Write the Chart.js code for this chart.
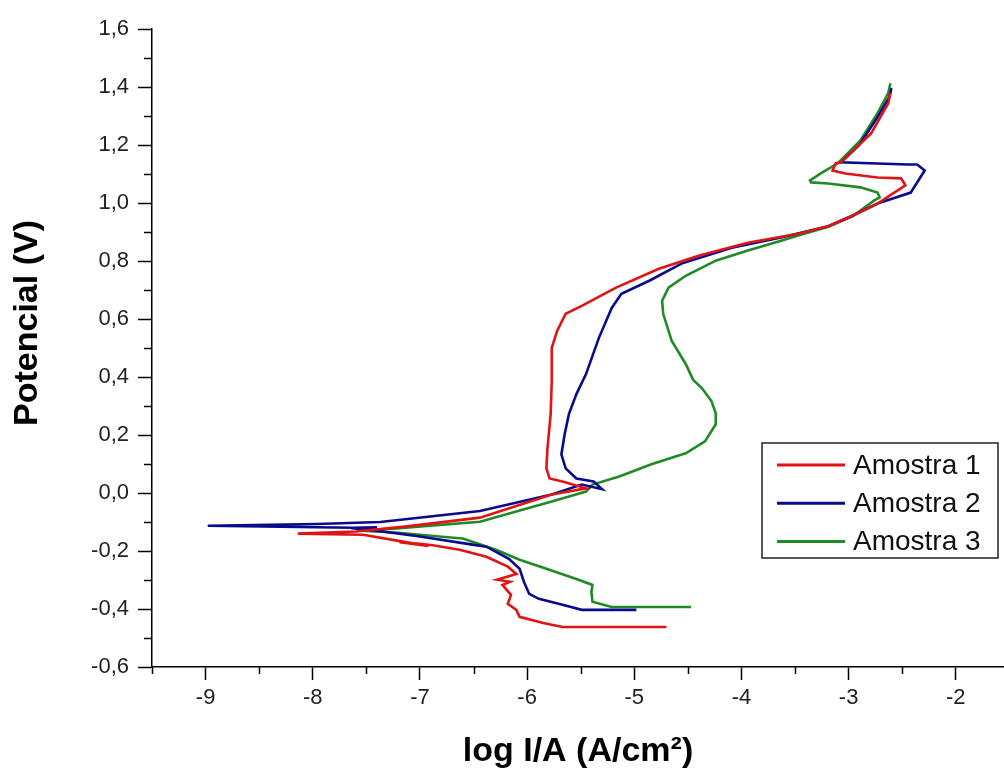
<!DOCTYPE html>
<html lang="pt-BR">
<head>
<meta charset="utf-8">
<title>Curvas de polarização</title>
<script src="https://cdn.jsdelivr.net/npm/chart.js@4.4.0/dist/chart.umd.min.js"></script>
<style>
  html, body { margin: 0; padding: 0; background: #fff; }
  #grafico { display: block; }
</style>
</head>
<body>
<canvas id="grafico" width="1004" height="772"></canvas>
<script>
// Curvas de polarização - log I x Potencial

// Amostra 1 (vermelho)
const amostra1LogI = [-4.70, -5.67, -5.85, -6.07, -6.10, -6.18, -6.15, -6.23, -6.16, -6.28, -6.10, -6.18, -6.38, -6.63,
    -6.88, -7.00, -7.19, -6.92, -7.20, -7.53, -8.14, -7.60, -7.12, -6.44, -5.77, -5.45, -5.67, -5.79, -5.82, -5.81,
    -5.78, -5.77, -5.77, -5.72, -5.64, -5.49, -5.17, -4.77, -4.40, -3.94, -3.47, -3.19, -2.96, -2.73, -2.47, -2.51,
    -2.73, -3.03, -3.15, -3.12, -3.07, -2.79, -2.63, -2.61];
const amostra1E = [-0.462, -0.462, -0.448, -0.427, -0.403, -0.382, -0.351, -0.317, -0.306, -0.299, -0.279, -0.254, -0.220, -0.196,
    -0.180, -0.175, -0.170, -0.183, -0.165, -0.144, -0.140, -0.133, -0.115, -0.085, -0.005, 0.016, 0.040, 0.050, 0.085, 0.154,
    0.272, 0.386, 0.500, 0.559, 0.618, 0.645, 0.708, 0.773, 0.818, 0.863, 0.894, 0.920, 0.957, 0.998, 1.061, 1.085,
    1.088, 1.102, 1.112, 1.137, 1.140, 1.240, 1.344, 1.380];

// Amostra 2 (azul)
const amostra2LogI = [-4.98, -5.49, -5.67, -5.89, -5.98, -6.03, -6.07, -6.17, -6.38, -6.51, -7.00, -7.35, -7.55, -7.40,
    -7.62, -8.98, -7.96, -7.37, -6.44, -5.77, -5.49, -5.30, -5.38, -5.54, -5.64, -5.68, -5.65, -5.61, -5.54, -5.45,
    -5.33, -5.21, -5.12, -4.86, -4.56, -4.09, -3.63, -3.19, -2.96, -2.73, -2.42, -2.29, -2.36, -2.45, -3.07, -2.90,
    -2.73, -2.62, -2.60];
const amostra2E = [-0.403, -0.403, -0.385, -0.365, -0.348, -0.306, -0.261, -0.227, -0.185, -0.178, -0.150, -0.133, -0.125, -0.118,
    -0.120, -0.113, -0.107, -0.100, -0.062, -0.005, 0.029, 0.013, 0.040, 0.050, 0.085, 0.133, 0.202, 0.272, 0.341, 0.410,
    0.535, 0.638, 0.687, 0.732, 0.791, 0.846, 0.881, 0.920, 0.957, 0.998, 1.036, 1.112, 1.133, 1.133, 1.140, 1.200,
    1.296, 1.365, 1.396];

// Amostra 3 (verde)
const amostra3LogI = [-4.47, -5.21, -5.39, -5.40, -5.39, -5.52, -5.82, -6.07, -6.29, -6.60, -6.82, -7.20, -7.54, -7.25,
    -6.44, -5.77, -5.45, -5.39, -5.14, -4.84, -4.52, -4.34, -4.24, -4.24, -4.28, -4.37, -4.45, -4.52, -4.65, -4.73,
    -4.74, -4.68, -4.52, -4.24, -3.94, -3.63, -3.47, -3.19, -2.96, -2.76, -2.71, -2.73, -2.89, -3.19, -3.35, -3.36,
    -3.26, -3.10, -2.89, -2.73, -2.63, -2.61];
const amostra3E = [-0.393, -0.393, -0.375, -0.341, -0.317, -0.299, -0.261, -0.230, -0.196, -0.157, -0.150, -0.137, -0.130, -0.123,
    -0.099, -0.029, 0.005, 0.029, 0.057, 0.099, 0.137, 0.178, 0.237, 0.275, 0.317, 0.362, 0.390, 0.445, 0.524, 0.618,
    0.663, 0.708, 0.749, 0.801, 0.836, 0.870, 0.888, 0.918, 0.955, 1.009, 1.019, 1.036, 1.054, 1.067, 1.071, 1.078,
    1.102, 1.137, 1.216, 1.310, 1.379, 1.413];

const nomesAmostras = ['Amostra 1', 'Amostra 2', 'Amostra 3'];
const coresAmostras = ['#e01414', '#0a0a8c', '#1f8a26'];

const FONTE = "'Liberation Sans', Arial, sans-serif";

// Junta os dois vetores em pontos {x, y}
function montarPontos(logI, potencial) {
    return logI.map((x, i) => ({ x: x, y: potencial[i] }));
}

// Marcas principais: inteiros no eixo x, múltiplos de 0,2 no eixo y
function ehPrincipalX(v) { return Math.round(v * 2) % 2 === 0; }
function ehPrincipalY(v) { return Math.round(v * 10) % 2 === 0; }

// Plugin: marcas secundárias, título do eixo y e legenda dentro do gráfico
const pluginExtras = {
    id: 'extras',
    afterDraw(chart) {
        const ctx = chart.ctx;
        const area = chart.chartArea;
        const sx = chart.scales.x;
        const sy = chart.scales.y;

        ctx.save();
        ctx.strokeStyle = '#000';
        ctx.lineWidth = 1.5;
        ctx.beginPath();
        sx.ticks.forEach(t => {
            if (!ehPrincipalX(t.value)) {
                const px = Math.round(sx.getPixelForValue(t.value)) + 0.5;
                ctx.moveTo(px, area.bottom);
                ctx.lineTo(px, area.bottom + 7);
            }
        });
        sy.ticks.forEach(t => {
            if (!ehPrincipalY(t.value)) {
                const py = Math.round(sy.getPixelForValue(t.value)) + 0.5;
                ctx.moveTo(area.left, py);
                ctx.lineTo(area.left - 8, py);
            }
        });
        ctx.stroke();

        // título do eixo y
        ctx.save();
        ctx.translate(37, 323);
        ctx.rotate(-Math.PI / 2);
        ctx.fillStyle = '#000';
        ctx.font = 'bold 34px ' + FONTE;
        ctx.textAlign = 'center';
        ctx.textBaseline = 'alphabetic';
        ctx.fillText('Potencial (V)', 0, 0);
        ctx.restore();

        // legenda
        const caixa = { x: 762, y: 443, w: 236, h: 115 };
        ctx.fillStyle = '#fff';
        ctx.fillRect(caixa.x, caixa.y, caixa.w, caixa.h);
        ctx.strokeStyle = '#222';
        ctx.lineWidth = 1.5;
        ctx.strokeRect(caixa.x, caixa.y, caixa.w, caixa.h);

        ctx.font = '28px ' + FONTE;
        ctx.textAlign = 'left';
        ctx.textBaseline = 'middle';
        chart.data.datasets.forEach((ds, i) => {
            const ly = 465 + i * 38.3;
            ctx.strokeStyle = ds.borderColor;
            ctx.lineWidth = 3;
            ctx.beginPath();
            ctx.moveTo(777, ly);
            ctx.lineTo(845, ly);
            ctx.stroke();
            ctx.fillStyle = '#111';
            ctx.fillText(ds.label, 853, ly + 1);
        });
        ctx.restore();
    }
};

function inicializarGrafico() {
    const ctx = document.getElementById('grafico').getContext('2d');

    const series = [
        montarPontos(amostra1LogI, amostra1E),
        montarPontos(amostra2LogI, amostra2E),
        montarPontos(amostra3LogI, amostra3E)
    ];

    new Chart(ctx, {
        type: 'scatter',
        data: {
            datasets: series.map((pontos, i) => ({
                label: nomesAmostras[i],
                data: pontos,
                showLine: true,
                borderColor: coresAmostras[i],
                backgroundColor: coresAmostras[i],
                borderWidth: 2.6,
                pointRadius: 0,
                tension: 0
            }))
        },
        options: {
            responsive: false,
            devicePixelRatio: 1,
            animation: false,
            layout: { padding: { top: 29, right: 0, bottom: 0, left: 0 } },
            plugins: {
                legend: { display: false },
                tooltip: { enabled: false }
            },
            scales: {
                x: {
                    type: 'linear',
                    min: -9.5,
                    max: -1.55,
                    afterFit: s => { s.height = 105; },
                    border: { display: true, color: '#000', width: 1.5 },
                    grid: {
                        display: true,
                        drawOnChartArea: false,
                        drawTicks: true,
                        tickLength: 13,
                        tickWidth: 1.5,
                        tickColor: c => ehPrincipalX(c.tick.value) ? '#000' : 'rgba(0,0,0,0)'
                    },
                    ticks: {
                        stepSize: 0.5,
                        includeBounds: false,
                        autoSkip: false,
                        maxRotation: 0,
                        padding: 5,
                        color: '#222',
                        font: { family: FONTE, size: 22 },
                        callback: v => ehPrincipalX(v) ? String(Math.round(v)) : ''
                    },
                    title: {
                        display: true,
                        text: 'log I/A (A/cm²)',
                        color: '#000',
                        padding: 0,
                        font: { family: FONTE, size: 34, weight: 'bold' }
                    }
                },
                y: {
                    type: 'linear',
                    min: -0.6,
                    max: 1.6,
                    afterFit: s => { s.width = 152; },
                    border: { display: true, color: '#000', width: 1.5 },
                    grid: {
                        display: true,
                        drawOnChartArea: false,
                        drawTicks: true,
                        tickLength: 14,
                        tickWidth: 1.5,
                        tickColor: c => ehPrincipalY(c.tick.value) ? '#000' : 'rgba(0,0,0,0)'
                    },
                    ticks: {
                        stepSize: 0.1,
                        autoSkip: false,
                        padding: 9,
                        color: '#222',
                        font: { family: FONTE, size: 22 },
                        callback: v => ehPrincipalY(v) ? (Math.round(v * 10) / 10).toFixed(1).replace('.', ',') : ''
                    }
                }
            }
        },
        plugins: [pluginExtras]
    });
}

document.addEventListener('DOMContentLoaded', inicializarGrafico);
</script>
</body>
</html>
